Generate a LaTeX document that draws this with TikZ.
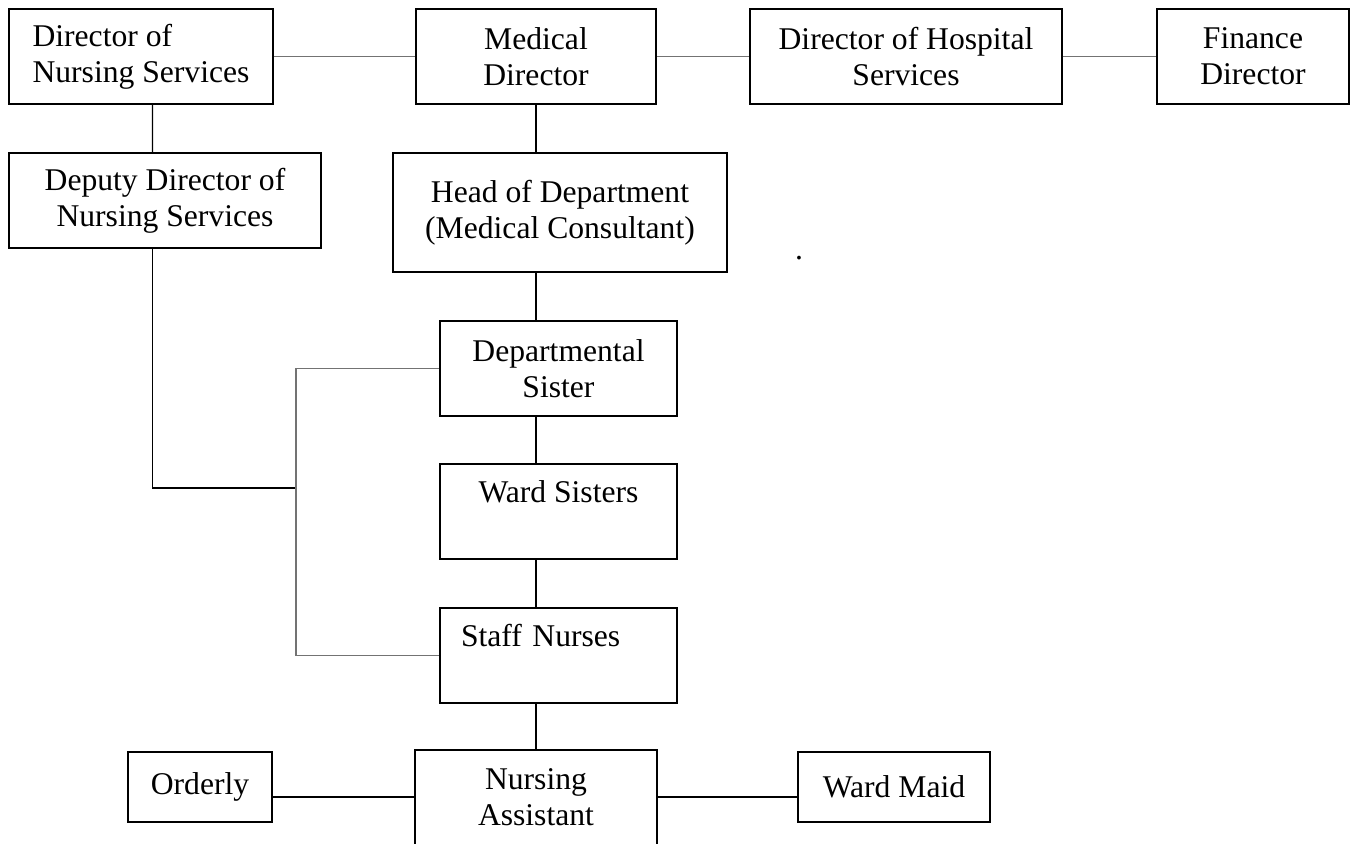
\documentclass[tikz,border=0pt]{standalone}
\usepackage{fontspec}
\setmainfont{Liberation Serif}
\usetikzlibrary{calc}

\tikzset{
    post/.style={draw, line width=1.1pt, minimum height=1.9cm, align=center,
        font=\fontsize{18}{20.5}\selectfont},
    topline/.style={text depth=0.8cm},
    link/.style={draw, line width=0.8pt},
    faint/.style={draw=black!55, line width=0.6pt}
}

\begin{document}
\begin{tikzpicture}[x=0.02cm, y=-0.02cm]
    \useasboundingbox (0,0) rectangle (1353,843);

    \node[post, minimum width=5.28cm, align=left] (dns) at (141,56.5) {Director of\\Nursing Services};
    \node[post, minimum width=4.8cm] (md) at (536,56.5) {Medical\\Director};
    \node[post, minimum width=6.24cm] (dhs) at (906,56.5) {Director of Hospital\\Services};
    \node[post, minimum width=3.84cm] (fd) at (1253,56.5) {Finance\\Director};
    \node[post, minimum width=6.24cm] (ddns) at (165,200.5) {Deputy Director of\\Nursing Services};
    \node[post, minimum width=6.68cm, minimum height=2.38cm] (hod) at (560,212.5) {Head of Department\\(Medical Consultant)};
    \node[post, minimum width=4.74cm] (ds) at (558.5,368.5) {Departmental\\Sister};
    \node[post, topline, minimum width=4.74cm] (ws) at (558.5,511.5) {Ward Sisters};
    \node[post, topline, minimum width=4.74cm, text width=3.9cm, align=left] (sn) at (558.5,655.5) {Staff Nurses};
    \node[post, draw=none, minimum width=4.8cm, minimum height=1.84cm] (na) at (536,797) {Nursing\\Assistant};
    \node[post, minimum width=2.88cm, minimum height=1.4cm] (ord) at (200,787) {Orderly};
    \node[post, minimum width=3.84cm, minimum height=1.4cm] (wm) at (894,787) {Ward Maid};
    \node[font=\fontsize{18}{20.5}\selectfont, inner sep=0pt] (stray) at (799,258) {.};
    \coordinate (jn) at (296,488);

    \draw[line width=1.1pt] (na.south west) -- (na.north west) -- (na.north east) -- (na.south east);

    \draw[faint] (dns.east) -- (md.west);
    \draw[faint] (md.east) -- (dhs.west);
    \draw[faint] (dhs.east) -- (fd.west);
    \draw[link] ([xshift=0.23cm]dns.south) -- ([xshift=-0.25cm]ddns.north);
    \draw[link] ([xshift=-0.25cm]ddns.south) |- (jn);
    \draw[faint] (ds.west) -| (jn) |- (sn.west);

    \draw[link] (md.south) -- (md.south |- hod.north);
    \draw[link] (hod.south -| md.south) -- (ds.north -| md.south);
    \draw[link] (ds.south -| md.south) -- (ws.north -| md.south);
    \draw[link] (ws.south -| md.south) -- (sn.north -| md.south);
    \draw[link] (sn.south -| na.north) -- (na.north);
    \draw[link] (na.west -| ord.east) -- (na.west);
    \draw[link] (na.east) -- (na.east -| wm.west);
\end{tikzpicture}
\end{document}
